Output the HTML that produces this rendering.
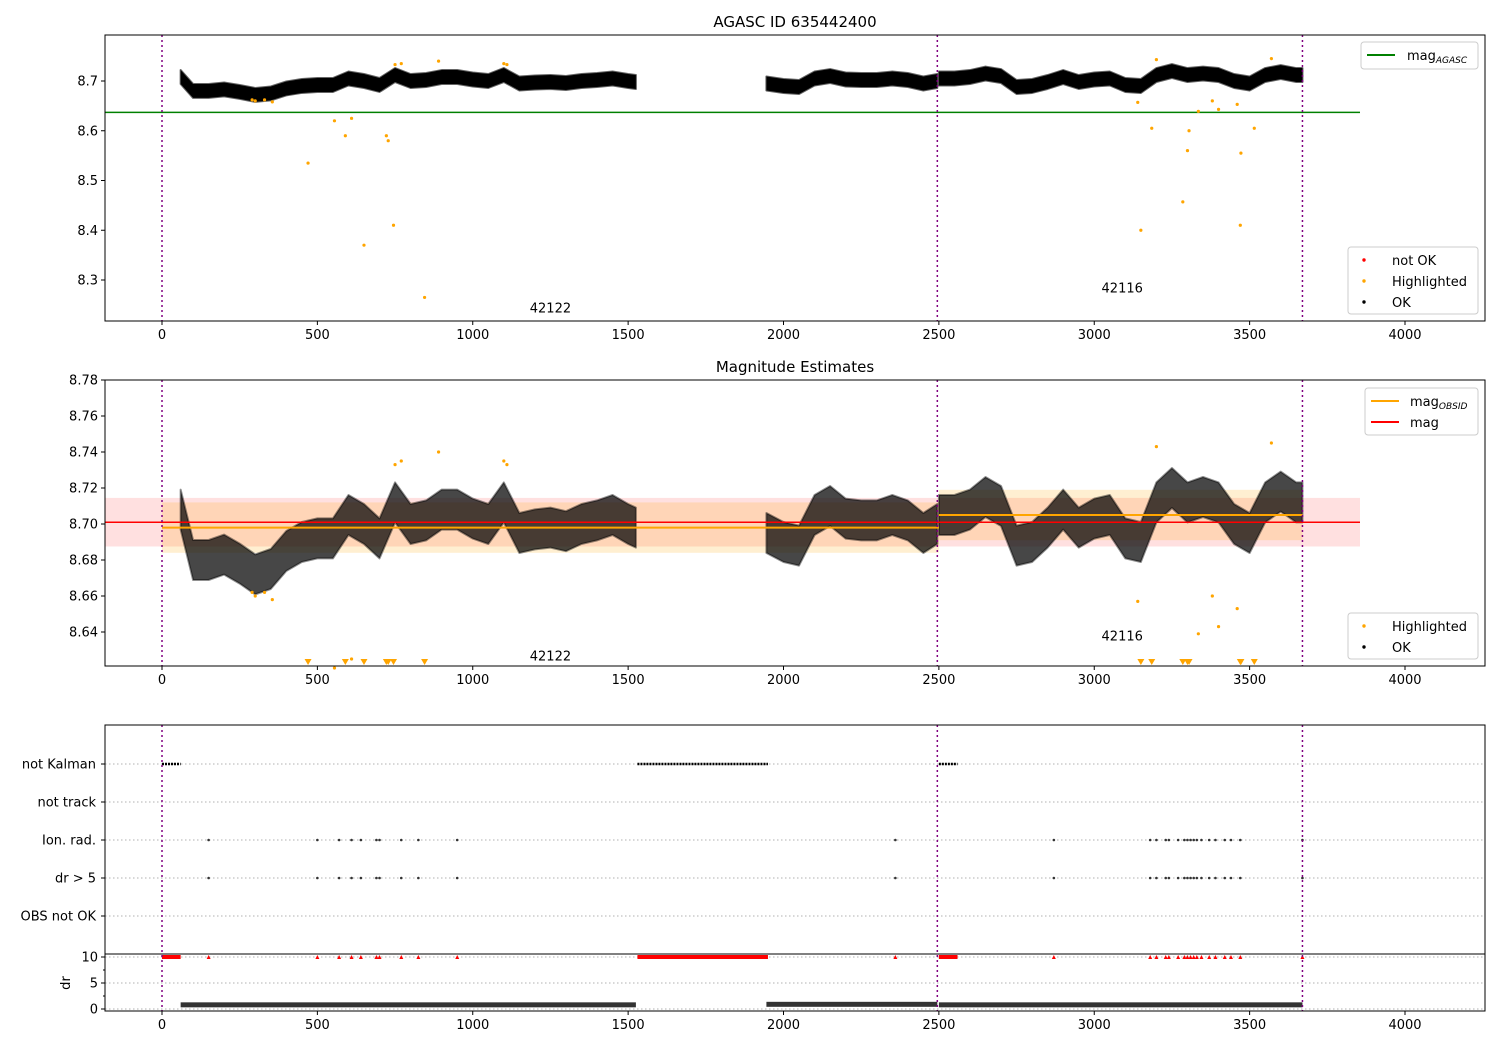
<!DOCTYPE html>
<html><head><meta charset="utf-8"><style>
body{margin:0;background:#fff;}
svg{display:block;font-family:"DejaVu Sans","Liberation Sans",sans-serif;}
</style></head><body>
<svg id="chart" width="1500" height="1050" viewBox="0 0 1500 1050" xmlns="http://www.w3.org/2000/svg"></svg>
<script>
// ---- data ----
const segTimes = [
 [60,100,150,200,250,300,350,400,450,500,550,600,650,700,750,800,850,900,950,1000,1050,1100,1150,1200,1250,1300,1350,1400,1450,1500,1525],
 [1945,2000,2050,2100,2150,2200,2250,2300,2350,2400,2450,2495],
 [2500,2550,2600,2650,2700,2750,2800,2850,2900,2950,3000,3050,3100,3150,3200,3250,3300,3350,3400,3450,3500,3550,3600,3650,3670]
];
const segMags = [
 [8.708,8.680,8.680,8.683,8.678,8.672,8.675,8.685,8.690,8.692,8.692,8.705,8.700,8.692,8.712,8.700,8.702,8.708,8.708,8.703,8.700,8.712,8.695,8.697,8.698,8.696,8.700,8.702,8.705,8.700,8.698],
 [8.695,8.690,8.688,8.705,8.710,8.703,8.702,8.702,8.705,8.702,8.695,8.700],
 [8.705,8.705,8.708,8.715,8.710,8.688,8.690,8.698,8.708,8.698,8.703,8.705,8.692,8.690,8.712,8.720,8.712,8.715,8.712,8.700,8.695,8.712,8.718,8.712,8.712]
];
const magSpread = 0.010;
const hlTimes = [290,300,330,355,470,555,590,610,650,722,728,745,750,770,845,890,1100,1110,3140,3150,3185,3200,3285,3300,3305,3335,3380,3400,3460,3470,3472,3515,3570];
const hlMags  = [8.662,8.660,8.662,8.658,8.535,8.62,8.59,8.625,8.37,8.59,8.58,8.41,8.733,8.735,8.265,8.740,8.735,8.733,8.657,8.40,8.605,8.743,8.457,8.56,8.60,8.639,8.660,8.643,8.653,8.41,8.555,8.605,8.745];
const magAgasc = 8.637;
const magAll = 8.701, magAllErr = 0.0135;
const obsStart = [0,2500], obsEnd = [2500,3670], obsMag = [8.698,8.705], obsErr = [0.014,0.014];
const obsBounds = [0,2495,3670];
const obsIds = ["42122","42116"], obsLabelT = [1250,3090], obsLabelV1 = [8.245,8.285], obsLabelV2 = [8.627,8.638];
const notKalman = [[0,60],[1530,1950],[2500,2560]];
const ionTimes = [150,500,570,610,640,690,700,770,825,950,2360,2870,3180,3200,3230,3240,3270,3290,3300,3310,3320,3330,3345,3370,3390,3420,3440,3470,3670];
const drVals = [0.8,0.9,0.8];
const xTicks = [0,500,1000,1500,2000,2500,3000,3500,4000];
const y1Ticks = [8.3,8.4,8.5,8.6,8.7];
const y2Ticks = [8.64,8.66,8.68,8.70,8.72,8.74,8.76,8.78];
const rows = ["not Kalman","not track","Ion. rad.","dr > 5","OBS not OK"];
const drTicks = [0,5,10];

// ---- scales ----
const L=105,R=1485;
const X=t=>162+t*0.31075;
const Y1=v=>81+(8.7-v)*497.5;
const Y2=v=>524+(8.70-v)*1800;
const rowY=i=>764+i*38;
const YD=d=>1009-d*5.2;
const svg=document.getElementById('chart');
const NS='http://www.w3.org/2000/svg';
function mk(tag,attrs,parent,text){const e=document.createElementNS(NS,tag);for(const k in attrs)e.setAttribute(k,attrs[k]);if(text!==undefined)e.textContent=text;(parent||svg).appendChild(e);return e;}

function frame(top,bot,name){
 const r=mk('rect',{x:L,y:top,width:R-L,height:bot-top,fill:'none',stroke:'#000','stroke-width':1});
 
 
}
function xAxis(bot,name){
 const g=mk('g',{});
 
 
 xTicks.forEach(t=>{mk('line',{x1:X(t),x2:X(t),y1:bot,y2:bot+4,stroke:'#000'},g);
  mk('text',{x:X(t),y:bot+18,'text-anchor':'middle','font-size':13},g,String(t));});
}
function yAxis(ticks,Yf,fmt,name){
 const g=mk('g',{});
 
 
 ticks.forEach(v=>{mk('line',{x1:L-4,x2:L,y1:Yf(v),y2:Yf(v),stroke:'#000'},g);
  mk('text',{x:L-7,y:Yf(v)+4.5,'text-anchor':'end','font-size':13},g,fmt(v));});
}
function band(Yf,clip,op,name){
 segTimes.forEach((ts,s)=>{
  const up=ts.map((t,i)=>X(t)+','+(Yf(segMags[s][i]+magSpread)-2)).join(' ');
  const dn=ts.map((t,i)=>X(t)+','+(Yf(segMags[s][i]-magSpread)+2)).reverse().join(' ');
  const p=mk('polygon',{points:up+' '+dn,fill:'#000','fill-opacity':op,'clip-path':clip,'stroke':'#000','stroke-opacity':op*0.6,'stroke-width':2,'stroke-linejoin':'round'});
  
  
 });
}
function vlines(top,bot){
 obsBounds.forEach(t=>{const l=mk('line',{x1:X(t),x2:X(t),y1:top,y2:bot,stroke:'#800080','stroke-width':1.5,'stroke-dasharray':'2,3'});
  
  });
}
mk('defs',{}).innerHTML='<clipPath id="c1"><rect x="105" y="35" width="1380" height="286"/></clipPath><clipPath id="c2"><rect x="105" y="380" width="1380" height="286"/></clipPath>';

// ---- Panel 1 ----
let t1=mk('text',{x:795,y:27,'text-anchor':'middle','font-size':15},svg,'AGASC ID 635442400');


band(Y1,'url(#c1)',1,'ok-points-top');
let ag=mk('line',{x1:L,x2:1360,y1:Y1(magAgasc),y2:Y1(magAgasc),stroke:'green','stroke-width':1.5});


hlTimes.forEach((t,i)=>{const c=mk('circle',{cx:X(t),cy:Y1(hlMags[i]),r:1.6,fill:'orange'});
 
 });
obsIds.forEach((id,i)=>{const e=mk('text',{x:X(obsLabelT[i]),y:Y1(obsLabelV1[i])+5,'text-anchor':'middle','font-size':13},svg,id);
 
 });
vlines(35,321);frame(35,321,'top-plot-frame');xAxis(321,'x-axis-top');yAxis(y1Ticks,Y1,v=>v.toFixed(1),'y-axis-top');

// ---- Panel 2 ----
let t2=mk('text',{x:795,y:372,'text-anchor':'middle','font-size':15},svg,'Magnitude Estimates');


let rb=mk('rect',{x:L,y:Y2(magAll+magAllErr),width:1360-L,height:Y2(magAll-magAllErr)-Y2(magAll+magAllErr),fill:'red','fill-opacity':0.12});


obsStart.forEach((s,i)=>{const b=mk('rect',{x:X(s),y:Y2(obsMag[i]+obsErr[i]),width:X(obsEnd[i])-X(s),height:Y2(obsMag[i]-obsErr[i])-Y2(obsMag[i]+obsErr[i]),fill:'orange','fill-opacity':0.18});
 
 });
band(Y2,'url(#c2)',0.72,'ok-points-mid');
obsStart.forEach((s,i)=>{const l=mk('line',{x1:X(s),x2:X(obsEnd[i]),y1:Y2(obsMag[i]),y2:Y2(obsMag[i]),stroke:'orange','stroke-width':2});
 
 });
let ml=mk('line',{x1:L,x2:1360,y1:Y2(magAll),y2:Y2(magAll),stroke:'red','stroke-width':1.5});


hlTimes.forEach((t,i)=>{
 const v=hlMags[i];
 if(v>=8.62){const c=mk('circle',{cx:X(t),cy:Y2(v),r:1.6,fill:'orange'});
  
  }
 else{const x=X(t),y=663;const p=mk('polygon',{points:`${x-3.5},${y-4} ${x+3.5},${y-4} ${x},${y+2}`,fill:'orange'});
  
  }
});
obsIds.forEach((id,i)=>{const e=mk('text',{x:X(obsLabelT[i]),y:Y2(obsLabelV2[i])+5,'text-anchor':'middle','font-size':13},svg,id);
 
 });
vlines(380,666);frame(380,666,'middle-plot-frame');xAxis(666,'x-axis-middle');yAxis(y2Ticks,Y2,v=>v.toFixed(2),'y-axis-middle');

// ---- Panel 3 ----
rows.forEach((r,i)=>{
 const gl=mk('line',{x1:L,x2:R,y1:rowY(i),y2:rowY(i),stroke:'#b0b0b0','stroke-dasharray':'1.5,2.5'});
 
 
 mk('line',{x1:L-4,x2:L,y1:rowY(i),y2:rowY(i),stroke:'#000'});
 const tx=mk('text',{x:L-9,y:rowY(i)+4.5,'text-anchor':'end','font-size':13},svg,r);
 
 
});
[5,10].forEach(d=>{const gl=mk('line',{x1:L,x2:R,y1:YD(d),y2:YD(d),stroke:'#b0b0b0','stroke-dasharray':'1.5,2.5'});
 
 });
mk('line',{x1:L,x2:R,y1:YD(0),y2:YD(0),stroke:'#b0b0b0','stroke-dasharray':'1.5,2.5'});
notKalman.forEach(([a,b])=>{
 const k=mk('line',{x1:X(a),x2:X(b),y1:rowY(0),y2:rowY(0),stroke:'#000','stroke-width':2.5,'stroke-dasharray':'2,1'});
 
 
 const rr=mk('line',{x1:X(a),x2:X(b),y1:YD(10),y2:YD(10),stroke:'red','stroke-width':4});
 
 
});
ionTimes.forEach(t=>{
 [2,3].forEach(i=>{const c=mk('circle',{cx:X(t),cy:rowY(i),r:1.3,fill:'#333'});
  
  });
 const x=X(t),y=YD(10);const p=mk('polygon',{points:`${x-2},${y+2} ${x+2},${y+2} ${x},${y-2}`,fill:'red'});
 
 
});
segTimes.forEach((ts,s)=>{
 const a=ts[0],b=ts[ts.length-1];
 const d=drVals[s];
 const r=mk('rect',{x:X(a),y:YD(d)-2.5,width:X(b)-X(a),height:5,fill:'#000','fill-opacity':0.8});
 
 
});
vlines(725,1011);
frame(725,1011,'bottom-plot-frame');
mk('line',{x1:L,x2:R,y1:954,y2:954,stroke:'#000'});
xAxis(1011,'x-axis-bottom');
yAxis(drTicks,YD,v=>String(v),'dr-axis');
[2.5,7.5].forEach(d=>mk('line',{x1:L-2,x2:L,y1:YD(d),y2:YD(d),stroke:'#000'}));
let dl=mk('text',{x:70,y:983,'text-anchor':'middle','font-size':13,transform:'rotate(-90 70 983)'},svg,'dr');



// ---- Legends ----
function legend(x,y,w,h,items,name){
 const g=mk('g',{});
 
 
 mk('rect',{x:x,y:y,width:w,height:h,rx:3,fill:'#fff','fill-opacity':0.85,stroke:'#ccc'},g);
 items.forEach((it,i)=>{
  const cy=y+13+i*21;
  if(it.type==='line')mk('line',{x1:x+6,x2:x+34,y1:cy,y2:cy,stroke:it.c,'stroke-width':2},g);
  else mk('circle',{cx:x+16,cy:cy,r:1.7,fill:it.c},g);
  const t=mk('text',{x:x+it.tx,y:cy+5,'font-size':13},g,it.label);
  if(it.sub)mk('tspan',{'font-size':9,dy:3,'font-style':'italic'},t,it.sub);
 });
}
legend(1361,42,117,27,[{type:'line',c:'green',label:'mag',sub:'AGASC',tx:46}],'legend-top-upper');
legend(1348,247,130,67,[{type:'pt',c:'red',label:'not OK',tx:44},{type:'pt',c:'orange',label:'Highlighted',tx:44},{type:'pt',c:'#000',label:'OK',tx:44}],'legend-top-lower');
legend(1365,388,113,47,[{type:'line',c:'orange',label:'mag',sub:'OBSID',tx:45},{type:'line',c:'red',label:'mag',tx:45}],'legend-middle-upper');
legend(1348,613,130,46,[{type:'pt',c:'orange',label:'Highlighted',tx:44},{type:'pt',c:'#000',label:'OK',tx:44}],'legend-middle-lower');
</script>
</body></html>
